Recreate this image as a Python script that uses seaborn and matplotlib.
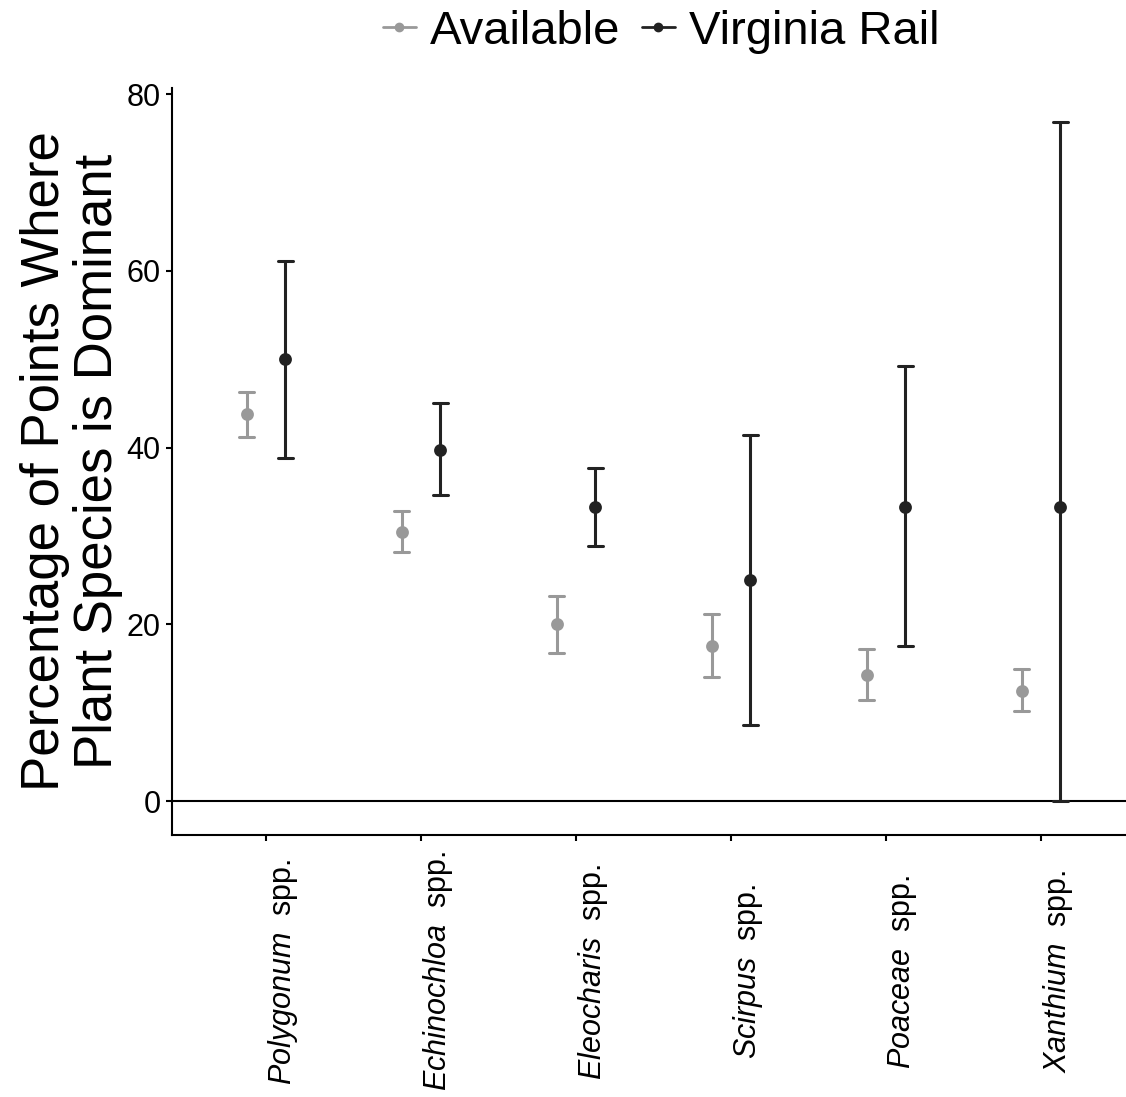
import numpy as np
import pandas as pd
import matplotlib
matplotlib.use("Agg")
import matplotlib.pyplot as plt
import seaborn as sns
from matplotlib.lines import Line2D

# data (percent, with interval ends)
species = ["Polygonum", "Echinochloa", "Eleocharis", "Scirpus", "Poaceae", "Xanthium"]
groups = ["Available", "Virginia Rail"]
available_mean = [43.8, 30.5, 20.0, 17.6, 14.3, 12.5]
available_lo = [41.2, 28.2, 16.8, 14.0, 11.4, 10.2]
available_hi = [46.3, 32.8, 23.2, 21.2, 17.2, 14.9]
rail_mean = [50.0, 39.7, 33.3, 25.0, 33.3, 33.3]
rail_lo = [38.8, 34.6, 28.9, 8.6, 17.6, 0.0]
rail_hi = [61.1, 45.0, 37.7, 41.4, 49.2, 76.9]
yticks = [0, 20, 40, 60, 80]

sns.set_style("ticks")
plt.rcParams["font.family"] = ["Liberation Sans", "DejaVu Sans"]
plt.rcParams["mathtext.fontset"] = "custom"
plt.rcParams["mathtext.rm"] = "Liberation Sans"
plt.rcParams["mathtext.it"] = "Liberation Sans:italic"
plt.rcParams["text.color"] = "black"
plt.rcParams["axes.labelcolor"] = "black"

# long table: lo / mean / hi per group, median = mean, range = interval
rows = []
for i, s in enumerate(species):
    for v in (available_lo[i], available_mean[i], available_hi[i]):
        rows.append((s, groups[0], v))
    for v in (rail_lo[i], rail_mean[i], rail_hi[i]):
        rows.append((s, groups[1], v))
df = pd.DataFrame(rows, columns=["species", "group", "pct"])

colors = {"Available": "#999999", "Virginia Rail": "#222222"}

W, H = 1126, 1097
fig = plt.figure(figsize=(W / 100, H / 100), dpi=100)
ax = fig.add_axes([172 / W, 1 - 835 / H, (W - 172) / W, (835 - 88) / H])

ax.axhline(0, color="black", lw=1.5, zorder=1)

sns.pointplot(data=df, x="species", y="pct", hue="group", order=species,
              hue_order=groups, palette=colors, estimator="median",
              errorbar=lambda v: (v.min(), v.max()), dodge=0.25,
              linestyle="none", markers="o", markersize=7.2, capsize=0.1,
              err_kws={"linewidth": 2.2}, legend=False, ax=ax)

ax.set_xlim(-0.606, 5.548)
ax.set_ylim(-3.84, 80.7)
ax.set_yticks(yticks)
ax.set_xticks(range(len(species)))
ax.set_xticklabels([f"$\\mathit{{{s}}}$  spp." for s in species],
                   rotation=90, ha="left", va="center")
ax.set_xlabel("")
ax.set_ylabel("Percentage of Points Where\nPlant Species is Dominant",
              fontsize=38, linespacing=1.08)
ax.yaxis.set_label_coords(-0.051, 0.5)

for side in ["top", "right"]:
    ax.spines[side].set_visible(False)
for side in ["left", "bottom"]:
    ax.spines[side].set_linewidth(1.5)
    ax.spines[side].set_color("black")
ax.tick_params(axis="both", length=4.3, width=1.5, labelsize=22,
               colors="black")
ax.tick_params(axis="y", pad=4)
ax.tick_params(axis="x", pad=94)

handles = [Line2D([], [], color=colors[g], marker="o", markersize=6, lw=2)
           for g in groups]
fig.legend(handles, groups, loc="center", bbox_to_anchor=(661 / W, 1 - 32 / H),
           ncol=2, frameon=False, fontsize=34, handlelength=0.7,
           handletextpad=0.3, columnspacing=0.45)

fig.savefig("out.png", dpi=100)
